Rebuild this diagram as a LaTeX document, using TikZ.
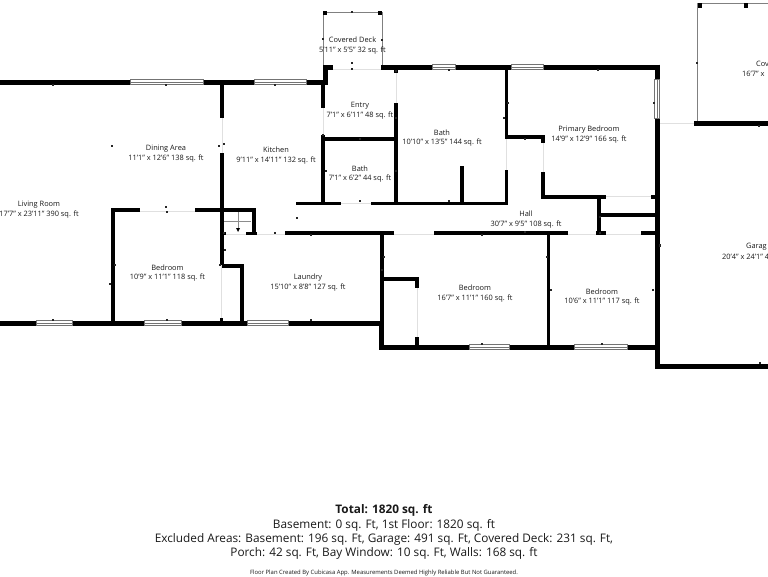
\documentclass[tikz,border=0pt]{standalone}
\usepackage{fontspec}
\setmainfont{Open Sans}
\tikzset{
  wall/.style={draw=black,line width=3.6pt,line cap=butt},
  thickwall/.style={draw=black,line width=5pt,line cap=butt},
  door/.style={draw=black!12,line width=0.8pt},
  outline/.style={draw=black!50,line width=0.8pt},
  win/.style={draw=black!55,fill=white,line width=0.5pt},
  post/.style={fill=black},
  tick/.style={fill=black!85},
  room/.style={font=\fontsize{7.4}{8}\selectfont,text=black!90,inner sep=0pt,yshift=-0.7pt},
  sum/.style={font=\fontsize{11.8}{13}\selectfont,text=black!90,inner sep=0pt,yshift=-1.5pt},
}
\newcommand{\winH}[3]{\draw[win] (#1,#3-2.6) rectangle (#2,#3+2.6); \draw[win] (#1,#3) -- (#2,#3);}
\newcommand{\winV}[3]{\draw[win] (#3-2.6,#1) rectangle (#3+2.6,#2); \draw[win] (#3,#1) -- (#3,#2);}
\begin{document}
\begin{tikzpicture}[x=1pt,y=-1pt]
\useasboundingbox (0,0) rectangle (768,576);
\fill[white] (0,0) rectangle (768,576);
% outlines of covered areas
\draw[outline] (323,66) -- (323,12) -- (382,12) -- (382,66);
\draw[outline] (697.5,122) -- (697.5,3) -- (768,3);
\fill[post] (323,11) rectangle (327,15);
\fill[post] (378,11) rectangle (382,15);
\fill[post] (698,3) rectangle (702,7.5);
\fill[post] (744,3) rectangle (748,7.5);
% doors and openings
\draw[door] (333,69) -- (381,69);
\draw[door] (396,73) -- (396,103);
\draw[door] (323,108) -- (323,135);
\draw[door] (341,203) -- (371,203);
\draw[door] (506,137) -- (506,170);
\draw[door] (543,143) -- (543,172);
\draw[door] (606,196) -- (652,196);
\draw[door] (660,123) -- (694,123);
\draw[door] (394,234) -- (434,234);
\draw[door] (568,234) -- (596,234);
\draw[door] (606,234) -- (641,234);
\draw[door] (140,211) -- (195,211);
\draw[door] (222,118) -- (222,153);
\draw[door] (221,265) -- (221,318);
\draw[door] (226,234) -- (246,234);
\draw[door] (257,234) -- (285,234);
\draw[door] (417,288) -- (417,337);
% main outer walls
\draw[thickwall] (0,82) -- (323,82);
\draw[thickwall] (0,323) -- (381,323);
\draw[thickwall] (381,67) -- (658,67);
\draw[thickwall] (323,67) -- (333,67);
\draw[thickwall] (325,65) -- (325,85);
\draw[thickwall] (379,347) -- (655,347);
\draw[thickwall] (381,323) -- (381,349.5);
\draw[thickwall] (657,64.5) -- (657,79);
\draw[thickwall] (657,118) -- (657,369);
\draw[thickwall] (655,366.5) -- (768,366.5);
\draw[thickwall] (694,123.5) -- (768,123.5);
% inner walls, left
\draw[wall] (222,82) -- (222,118);
\draw[wall] (222,153) -- (222,265);
\draw[wall] (221.5,318) -- (221.5,323);
\draw[wall] (111.5,210) -- (140,210);
\draw[wall] (195,210) -- (256,210);
\draw[wall] (113,208) -- (113,323);
\draw[wall] (254,208) -- (254,234);
\draw[wall] (222,233.5) -- (226,233.5);
\draw[wall] (246,233.5) -- (257,233.5);
\draw[wall] (222,266) -- (243.5,266);
\draw[wall] (241.7,264.2) -- (241.7,323);
\draw[wall] (285,233) -- (394,233);
\draw[wall] (434,233) -- (568,233);
\draw[wall] (596,233) -- (606,233);
\draw[wall] (641,233) -- (655,233);
\draw[wall] (296,203.5) -- (341,203.5);
\draw[wall] (371,203.5) -- (508,203.5);
\draw[wall] (382,233) -- (382,323);
% inner walls, middle
\draw[wall] (323,85) -- (323,108);
\draw[wall] (323,135) -- (323,203);
\draw[wall] (323,139) -- (396,139);
\draw[wall] (396,67) -- (396,73);
\draw[wall] (396,103) -- (396,203);
\draw[wall] (461.7,166) -- (461.7,203);
\draw[wall] (506.5,67) -- (506.5,139);
\draw[wall] (506.5,170) -- (506.5,205);
\draw[wall] (505,137) -- (545,137);
\draw[wall] (543,137) -- (543,143);
\draw[wall] (543,172) -- (543,198.8);
\draw[wall] (541.2,197) -- (606,197);
\draw[wall] (651,197) -- (655,197);
\draw[wall] (599,197) -- (599,233);
\draw[wall] (600,215) -- (655,215);
\draw[wall] (548.5,233) -- (548.5,347);
\draw[wall] (383,279) -- (419,279);
\draw[wall] (417,279) -- (417,288);
\draw[wall] (417,337) -- (417,345);
% windows
\winH{130}{203}{82}
\winH{254}{306}{82}
\winH{36}{72}{323}
\winH{144}{181}{323}
\winH{247}{288}{323}
\winH{432}{455}{67}
\winH{511}{543}{67}
\winH{469}{509}{347}
\winH{574}{627}{347}
\winV{79}{118}{657}
% stairs
\draw[draw=black!45,line width=0.5pt] (224,221) -- (251,221);
\draw[draw=black!45,line width=0.5pt] (238,212) -- (238,228);
\fill[black] (236,228) -- (240,228) -- (238,232) -- cycle;
% small marks
\foreach \p in {(352,12),(352,69),(396,71),(382,40),(323,39),(352,63),(323,135),(396,118),(396,171),(326,171),(360,139),(360,201),(449,201),(449,70),(508,103),(504,118),(525,139),(598,70),(654,103),(697,63),(759,126),(660,246),(53,85),(166,85),(275,85),(112,146),(219,146),(224,144),(166,207),(167,212),(115,265),(110,284),(53,320),(167,320),(220,265),(225,250),(224,233),(275,233),(297,218),(311,235),(311,320),(382,270),(384,257),(482,235),(525,232),(547,257),(551,290),(653,290),(600,233),(600,217),(482,344),(602,344),(660,245),(760,363)}
  \fill[tick] \p ++(-0.8,-0.8) rectangle ++(1.6,1.6);
% room labels
\node[room] (n1) at (352.5,39) {Covered Deck};
\node[room] (n2) at (352.5,49.5) {5'11" x 5'5" 32 sq. ft};
\node[room] (n3) at (360,105) {Entry};
\node[room] (n4) at (360,115) {7'1" x 6'11" 48 sq. ft};
\node[room] (n5) at (360,168) {Bath};
\node[room] (n6) at (360,178) {7'1" x 6'2" 44 sq. ft};
\node[room] (n7) at (442,132) {Bath};
\node[room] (n8) at (442,142) {10'10" x 13'5" 144 sq. ft};
\node[room] (n9) at (589,129) {Primary Bedroom};
\node[room] (n10) at (589,139) {14'9" x 12'9" 166 sq. ft};
\node[room] (n11) at (166,148) {Dining Area};
\node[room] (n12) at (166,158) {11'1" x 12'6" 138 sq. ft};
\node[room] (n13) at (276,149.5) {Kitchen};
\node[room] (n14) at (276,159.5) {9'11" x 14'11" 132 sq. ft};
\node[room] (n15) at (39,204) {Living Room};
\node[room] (n16) at (39,214) {17'7" x 23'11" 390 sq. ft};
\node[room] (n17) at (167.5,267) {Bedroom};
\node[room] (n18) at (167.5,277) {10'9" x 11'1" 118 sq. ft};
\node[room] (n19) at (308,277) {Laundry};
\node[room] (n20) at (308,287) {15'10" x 8'8" 127 sq. ft};
\node[room] (n21) at (526,213) {Hall};
\node[room] (n22) at (526,223.5) {30'7" x 9'5" 108 sq. ft};
\node[room] (n23) at (475,287.5) {Bedroom};
\node[room] (n24) at (475,297.5) {16'7" x 11'1" 160 sq. ft};
\node[room] (n25) at (602,291) {Bedroom};
\node[room] (n26) at (602,301) {10'6" x 11'1" 117 sq. ft};
\node[room,anchor=west] (n27) at (756,63.5) {Cov};
\node[room,anchor=west] (n28) at (742,73.5) {16'7" x};
\node[room,anchor=west] (n29) at (746,246) {Garag};
\node[room,anchor=west] (n30) at (722,256) {20'4" x 24'1" 4};
% summary
\node[sum,font=\fontsize{11.8}{13}\selectfont\bfseries] (s1) at (384,509) {Total: 1820 sq. ft};
\node[sum] (s2) at (384,523.5) {Basement: 0 sq. Ft, 1st Floor: 1820 sq. ft};
\node[sum] (s3) at (384,537.5) {Excluded Areas: Basement: 196 sq. Ft, Garage: 491 sq. Ft, Covered Deck: 231 sq. Ft,};
\node[sum] (s4) at (384,551.5) {Porch: 42 sq. Ft, Bay Window: 10 sq. Ft, Walls: 168 sq. ft};
\node[font=\fontsize{5.9}{7}\selectfont,text=black!90,inner sep=0pt] (s5) at (384,572.5) {Floor Plan Created By Cubicasa App. Measurements Deemed Highly Reliable But Not Guaranteed.};
\end{tikzpicture}
\end{document}
